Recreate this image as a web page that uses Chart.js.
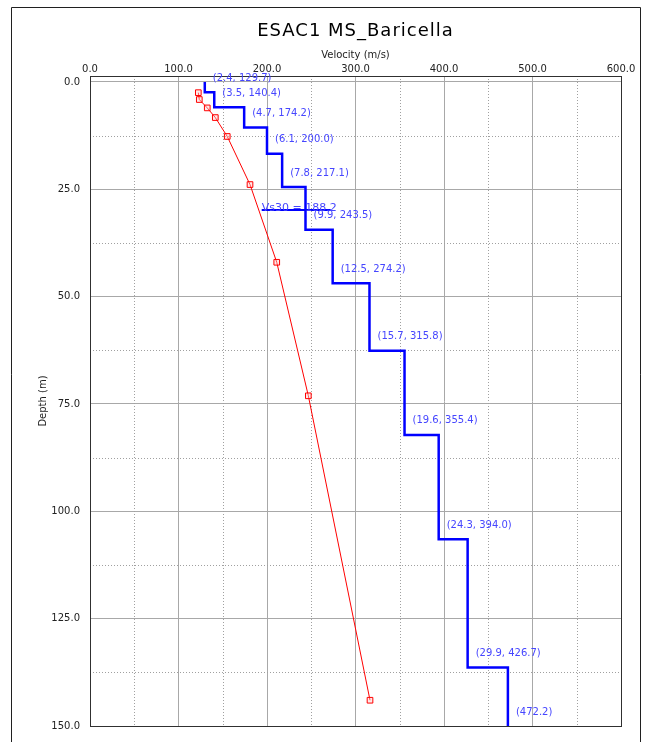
<!DOCTYPE html>
<html>
<head>
<meta charset="utf-8">
<script src="https://cdn.jsdelivr.net/npm/chart.js@4.4.1/dist/chart.umd.min.js"></script>
<style>
  html, body { margin: 0; padding: 0; background: #fff; }
  #chart { display: block; }
</style>
</head>
<body>
<canvas id="chart" width="653" height="742"></canvas>
<script>
// layered Vs model: thickness (m) and shear velocity (m/s), last layer is the half-space
const layerThickness = [2.4, 3.5, 4.7, 6.1, 7.8, 9.9, 12.5, 15.7, 19.6, 24.3, 29.9];
const layerVelocity = [129.7, 140.4, 174.2, 200.0, 217.1, 243.5, 274.2, 315.8, 355.4, 394.0, 426.7, 472.2];

// observed profile (red squares)
const profileVelocity = [122.4, 123.5, 132.5, 141.6, 155.1, 180.8, 211.0, 246.7, 316.4];
const profileDepth = [2.5, 4.1, 6.05, 8.3, 12.7, 23.9, 42.0, 73.1, 144.0];

const vs30 = 188.2;
const vs30Line = [194, 272];
const vs30Depth = 29.8;

const velocityTicks = [0, 100, 200, 300, 400, 500, 600];
const depthTicks = [0, 25, 50, 75, 100, 125, 150];

const blue = '#0000ff';
const labelBlue = '#4646ff';
const fontFamily = '"DejaVu Sans", Verdana, sans-serif';

// build step line from the layers
const layerTop = [];
const layerBottom = [];
let z = 0;
layerVelocity.forEach((v, i) => {
    layerTop.push(z);
    z = i < layerThickness.length ? z + layerThickness[i] : depthTicks[depthTicks.length - 1];
    layerBottom.push(z);
});
const stepPoints = [];
layerVelocity.forEach((v, i) => {
    stepPoints.push({ x: v, y: layerTop[i] });
    stepPoints.push({ x: v, y: layerBottom[i] });
});

const profilePoints = profileVelocity.map((v, i) => ({ x: v, y: profileDepth[i] }));

// frame, title and minor dotted grid
const decorPlugin = {
    id: 'decor',
    beforeDatasetsDraw(chart) {
        const { ctx, chartArea: a, scales: { x, y } } = chart;
        ctx.save();
        ctx.strokeStyle = '#a0a0a0';
        ctx.lineWidth = 1;
        ctx.setLineDash([1, 2]);
        for (let i = 0; i < velocityTicks.length - 1; i++) {
            const px = Math.round(x.getPixelForValue((velocityTicks[i] + velocityTicks[i + 1]) / 2)) + 0.5;
            ctx.beginPath(); ctx.moveTo(px, a.top); ctx.lineTo(px, a.bottom); ctx.stroke();
        }
        for (let i = 0; i < depthTicks.length - 1; i++) {
            const py = Math.round(y.getPixelForValue((depthTicks[i] + depthTicks[i + 1]) / 2)) + 0.5;
            ctx.beginPath(); ctx.moveTo(a.left, py); ctx.lineTo(a.right, py); ctx.stroke();
        }
        ctx.restore();
    },
    afterDraw(chart) {
        const { ctx, chartArea: a, scales: { x, y } } = chart;
        ctx.save();
        // plot border
        ctx.strokeStyle = '#303030';
        ctx.lineWidth = 1;
        ctx.strokeRect(Math.round(a.left) + 0.5, Math.round(a.top) + 0.5,
            Math.round(a.right - a.left), Math.round(a.bottom - a.top));
        // outer frame
        ctx.strokeStyle = '#202020';
        ctx.beginPath();
        ctx.moveTo(11.5, 742); ctx.lineTo(11.5, 7.5); ctx.lineTo(640.5, 7.5); ctx.lineTo(640.5, 742);
        ctx.stroke();
        // title
        ctx.fillStyle = '#000';
        ctx.font = '18px ' + fontFamily;
        ctx.letterSpacing = '1px';
        ctx.textAlign = 'center';
        ctx.textBaseline = 'middle';
        ctx.fillText('ESAC1 MS_Baricella', (a.left + a.right) / 2, 31);
        ctx.letterSpacing = '0px';

        // layer labels
        ctx.font = '10px ' + fontFamily;
        ctx.fillStyle = labelBlue;
        ctx.textAlign = 'left';
        layerVelocity.forEach((v, i) => {
            const txt = i < layerThickness.length
                ? '(' + layerThickness[i].toFixed(1) + ', ' + v.toFixed(1) + ')'
                : '(' + v.toFixed(1) + ')';
            ctx.fillText(txt, x.getPixelForValue(v) + 8, y.getPixelForValue(layerBottom[i]) - 14);
        });
        // Vs30 label
        ctx.font = '11px ' + fontFamily;
        ctx.textBaseline = 'alphabetic';
        ctx.fillText('Vs30 = ' + vs30.toFixed(1), x.getPixelForValue(vs30Line[0]), y.getPixelForValue(vs30Depth) + 1);
        ctx.restore();
    }
};

new Chart(document.getElementById('chart'), {
    type: 'scatter',
    data: {
        datasets: [
            {
                label: 'Vs model',
                data: stepPoints,
                showLine: true,
                borderColor: blue,
                borderWidth: 2.5,
                pointRadius: 0,
                tension: 0
            },
            {
                label: 'Vs30',
                data: vs30Line.map(v => ({ x: v, y: vs30Depth })),
                showLine: true,
                borderColor: blue,
                borderWidth: 2,
                pointRadius: 0
            },
            {
                label: 'Profile',
                data: profilePoints,
                showLine: true,
                borderColor: '#ff0000',
                borderWidth: 1,
                pointStyle: 'rect',
                pointRadius: 4,
                pointBorderWidth: 1,
                pointBorderColor: '#ff0000',
                pointBackgroundColor: 'rgba(255,200,200,0.4)'
            }
        ]
    },
    options: {
        responsive: false,
        animation: false,
        devicePixelRatio: 1,
        layout: { padding: { top: 46.8, left: 0, right: 32, bottom: 7 } },
        plugins: {
            legend: { display: false },
            tooltip: { enabled: false },
            title: { display: false }
        },
        scales: {
            x: {
                type: 'linear',
                position: 'top',
                min: velocityTicks[0],
                max: velocityTicks[velocityTicks.length - 1],
                afterBuildTicks: s => { s.ticks = velocityTicks.map(v => ({ value: v })); },
                afterFit: s => { s.height = 29.2; },
                ticks: {
                    padding: 1,
                    maxRotation: 0,
                    color: '#222',
                    font: { family: fontFamily, size: 10 },
                    callback: v => Number(v).toFixed(1)
                },
                grid: { color: '#a8a8a8', lineWidth: 1, drawTicks: false },
                border: { color: '#303030' },
                title: {
                    display: true,
                    text: 'Velocity (m/s)',
                    color: '#222',
                    font: { family: fontFamily, size: 10 },
                    padding: { top: 3, bottom: 0 }
                }
            },
            y: {
                type: 'linear',
                reverse: true,
                min: -1.38,
                max: depthTicks[depthTicks.length - 1],
                afterBuildTicks: s => { s.ticks = depthTicks.map(v => ({ value: v })); },
                afterFit: s => { s.width = 90; },
                ticks: {
                    padding: 10,
                    color: '#222',
                    font: { family: fontFamily, size: 10 },
                    callback: v => Number(v).toFixed(1)
                },
                grid: { color: '#a8a8a8', lineWidth: 1, drawTicks: false },
                border: { color: '#303030' },
                title: {
                    display: true,
                    text: 'Depth (m)',
                    color: '#222',
                    font: { family: fontFamily, size: 10 },
                    padding: { top: 37, bottom: 0 }
                }
            }
        }
    },
    plugins: [decorPlugin]
});
</script>
</body>
</html>
